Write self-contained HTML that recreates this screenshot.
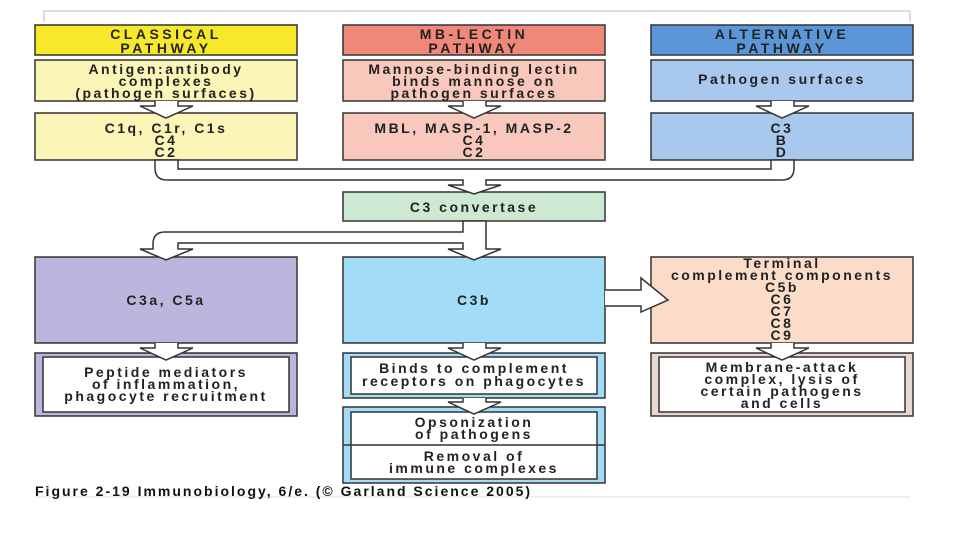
<!DOCTYPE html>
<html><head><meta charset="utf-8"><style>
body{margin:0;background:#fff;width:960px;height:540px;overflow:hidden}
svg text{font-family:"Liberation Sans",Arial,sans-serif;font-weight:bold;font-size:14px;letter-spacing:2.5px;fill:#222;text-anchor:middle}
svg text.h{letter-spacing:3.5px}
</style></head><body>
<svg width="960" height="540" viewBox="0 0 960 540" xmlns="http://www.w3.org/2000/svg">
<g stroke="#bbb" stroke-width="1" fill="none"><path d="M44 22V11H910V22"/><path d="M35 497H910" stroke="#ddd"/></g>
<g stroke="#333" stroke-width="1.5">
<rect x="35" y="25" width="262" height="30" fill="#f7e92a"/>
<rect x="343" y="25" width="262" height="30" fill="#ef8878"/>
<rect x="651" y="25" width="262" height="30" fill="#5b97d8"/>
<rect x="35" y="60" width="262" height="41" fill="#fbf6b8"/>
<rect x="343" y="60" width="262" height="41" fill="#f8c8bd"/>
<rect x="651" y="60" width="262" height="41" fill="#a9c8ee"/>
<rect x="35" y="113" width="262" height="47" fill="#fbf6b8"/>
<rect x="343" y="113" width="262" height="47" fill="#f8c8bd"/>
<rect x="651" y="113" width="262" height="47" fill="#a9c8ee"/>
<rect x="343" y="192" width="262" height="29" fill="#cde9d4"/>
<rect x="35" y="257" width="262" height="86" fill="#bcb6df"/>
<rect x="343" y="257" width="262" height="86" fill="#a3dcf7"/>
<rect x="651" y="257" width="262" height="86" fill="#fbdcc9"/>
<rect x="35" y="353" width="262" height="63" fill="#bcb6df"/>
<rect x="43" y="357" width="246" height="55" fill="#fff"/>
<rect x="343" y="353" width="262" height="45" fill="#a3dcf7"/>
<rect x="351" y="357" width="246" height="37" fill="#fff"/>
<rect x="343" y="407" width="262" height="76" fill="#a3dcf7"/>
<rect x="351" y="412" width="246" height="67" fill="#fff"/>
<path d="M343 445H605" fill="none"/>
<rect x="651" y="353" width="262" height="63" fill="#e8d8d0"/>
<rect x="659" y="357" width="246" height="55" fill="#fff"/>
</g>
<g stroke="#333" stroke-width="1.5" fill="#fff" stroke-linejoin="miter">
<path d="M155 101V106H140L166 118L193 106H178V101"/>
<path d="M463 101V106H448L474 118L501 106H486V101"/>
<path d="M771 101V106H756L782 118L809 106H794V101"/>
<path d="M155 160V168Q155 180 167 180H463V185H448L474 194L501 185H486V180H782Q794 180 794 168V160H771V169H486V169H463V169H178V160Z"/>
<path d="M463 221V232H165Q153 232 153 244V249H140L166 260L193 249H178V243H463V249H448L474 260L501 249H486V221Z"/>
<path d="M155 343V348H140L166 360L193 348H178V343"/>
<path d="M463 343V348H448L474 360L501 348H486V343"/>
<path d="M463 398V402H448L474 414L501 402H486V398"/>
<path d="M771 343V348H756L782 360L809 348H794V343"/>
<path d="M605 290H641V278L668 300L641 312V306H605"/>
</g>
<text class="h" x="166" y="39">CLASSICAL</text><text class="h" x="166" y="53">PATHWAY</text>
<text class="h" x="474" y="39">MB-LECTIN</text><text class="h" x="474" y="53">PATHWAY</text>
<text class="h" x="782" y="39">ALTERNATIVE</text><text class="h" x="782" y="53">PATHWAY</text>
<text x="166" y="74">Antigen:antibody</text><text x="166" y="86">complexes</text><text x="166" y="98">(pathogen surfaces)</text>
<text x="474" y="74">Mannose-binding lectin</text><text x="474" y="86">binds mannose on</text><text x="474" y="98">pathogen surfaces</text>
<text x="782" y="84">Pathogen surfaces</text>
<text x="166" y="133">C1q, C1r, C1s</text><text x="166" y="145">C4</text><text x="166" y="157">C2</text>
<text x="474" y="133">MBL, MASP-1, MASP-2</text><text x="474" y="145">C4</text><text x="474" y="157">C2</text>
<text x="782" y="133">C3</text><text x="782" y="145">B</text><text x="782" y="157">D</text>
<text x="474" y="212">C3  convertase</text>
<text x="166" y="305">C3a,  C5a</text>
<text x="474" y="305">C3b</text>
<text x="782" y="268">Terminal</text><text x="782" y="280">complement components</text><text x="782" y="292">C5b</text><text x="782" y="304">C6</text><text x="782" y="316">C7</text><text x="782" y="328">C8</text><text x="782" y="340">C9</text>
<text x="166" y="377">Peptide mediators</text><text x="166" y="389">of  inflammation,</text><text x="166" y="401">phagocyte recruitment</text>
<text x="474" y="373">Binds to  complement</text><text x="474" y="386">receptors on  phagocytes</text>
<text x="474" y="427">Opsonization</text><text x="474" y="439">of  pathogens</text>
<text x="474" y="461">Removal of</text><text x="474" y="473">immune complexes</text>
<text x="782" y="372">Membrane-attack</text><text x="782" y="384">complex, lysis of</text><text x="782" y="396">certain pathogens</text><text x="782" y="408">and cells</text>
<text x="35" y="496" style="text-anchor:start;font-size:14px;letter-spacing:2px;fill:#111">Figure 2-19  Immunobiology, 6/e. (© Garland Science 2005)</text>
</svg>
</body></html>
